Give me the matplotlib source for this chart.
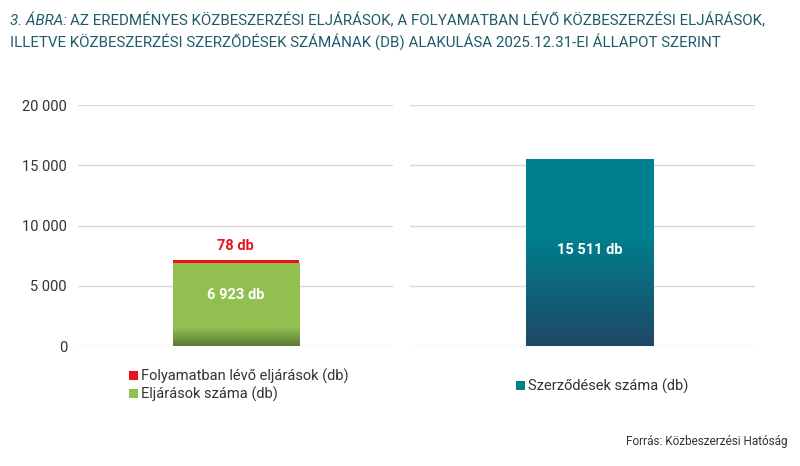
import matplotlib
matplotlib.use("Agg")
import matplotlib.pyplot as plt
import numpy as np
from matplotlib.colors import LinearSegmentedColormap

plt.rcParams['font.family'] = ['Roboto', 'DejaVu Sans']

left_labels = ["Folyamatban lévő eljárások (db)", "Eljárások száma (db)"]
eljarasok = 6923
folyamatban = 78
szerzodesek = 15511
right_label = "Szerződések száma (db)"
yticks = [0, 5000, 10000, 15000, 20000]
ytick_labels = ["0", "5 000", "10 000", "15 000", "20 000"]

fig = plt.figure(figsize=(8, 4.66), dpi=100)
axL = fig.add_axes([0.0975, 0.2575, 0.394, 0.517])
axR = fig.add_axes([0.5125, 0.2575, 0.431, 0.517])

def grad_bar(ax, x, w, h, bottom, top_col, bot_col, frac, label):
    bars = ax.bar(x, h, w, color=top_col, zorder=3, label=label)
    cmap = LinearSegmentedColormap.from_list("g", [bot_col, top_col])
    vals = np.clip(np.linspace(0, 1, 200) / frac, 0, 1).reshape(-1, 1)
    im = ax.imshow(vals, cmap=cmap, extent=[x - w/2, x + w/2, bottom, bottom + h],
                   origin="lower", aspect="auto", zorder=3.5, vmin=0, vmax=1)
    im.set_clip_path(bars[0])
    return bars

for ax in (axL, axR):
    ax.set_ylim(0, 20000)
    ax.set_xlim(-0.5, 0.5)
    ax.set_yticks(yticks)
    ax.grid(axis='y', color='#d9d9d9', lw=1, zorder=0)
    for s in ax.spines.values():
        s.set_visible(False)
    ax.set_xticks([])
    ax.tick_params(axis='y', length=0, labelsize=10.5, colors='#333333', pad=8)
axL.set_yticklabels(ytick_labels)
axR.set_yticklabels([])

bg = grad_bar(axL, 0.0, 0.40, eljarasok, 0, '#92c050', '#5b7a32', 0.22, left_labels[1])
br = axL.bar(0.0, folyamatban * 2.5, 0.40, bottom=eljarasok, color='#e8141c', zorder=4, label=left_labels[0])
axL.text(0, eljarasok / 2 + 800, f"{eljarasok:,} db".replace(",", " "), ha='center', va='center',
         color='white', fontsize=10.5, fontweight='bold', zorder=5)
axL.text(0, eljarasok + 1400, f"{folyamatban} db", ha='center', va='center',
         color='#e8141c', fontsize=10.5, fontweight='bold', zorder=5)

grad_bar(axR, 0.02, 0.37, szerzodesek, 0, '#00808f', '#1e4866', 0.6, right_label)
axR.text(0.02, 8000, f"{szerzodesek:,} db".replace(",", " "), ha='center', va='center',
         color='white', fontsize=10.5, fontweight='bold', zorder=5)

axL.legend(handles=[br, bg], labels=left_labels, loc='upper left', bbox_to_anchor=(0.12, -0.04),
           frameon=False, fontsize=10.5, handlelength=0.6, handleheight=0.6, handletextpad=0.2,
           labelspacing=0.2, labelcolor='#333333')
axR.legend(loc='upper left', bbox_to_anchor=(0.27, -0.08), frameon=False, fontsize=10.5,
           handlelength=0.6, handleheight=0.6, handletextpad=0.2, labelcolor='#333333')

tc = '#1f5b6b'
fs = 10.9
t1 = fig.text(0.012, 0.955, "3. ÁBRA:", fontsize=fs, style='italic', color=tc, va='center')
fig.canvas.draw()
bb = t1.get_window_extent()
x2 = bb.x1 / fig.bbox.width + 0.004
fig.text(x2, 0.955, "AZ EREDMÉNYES KÖZBESZERZÉSI ELJÁRÁSOK, A FOLYAMATBAN LÉVŐ KÖZBESZERZÉSI ELJÁRÁSOK,",
         fontsize=fs, color=tc, va='center')
fig.text(0.012, 0.91, "ILLETVE KÖZBESZERZÉSI SZERZŐDÉSEK SZÁMÁNAK (DB) ALAKULÁSA 2025.12.31-EI ÁLLAPOT SZERINT",
         fontsize=fs, color=tc, va='center')
fig.text(0.985, 0.045, "Forrás: Közbeszerzési Hatóság", fontsize=8.5, color='#333333', ha='right')

fig.savefig("out.png", dpi=100)
